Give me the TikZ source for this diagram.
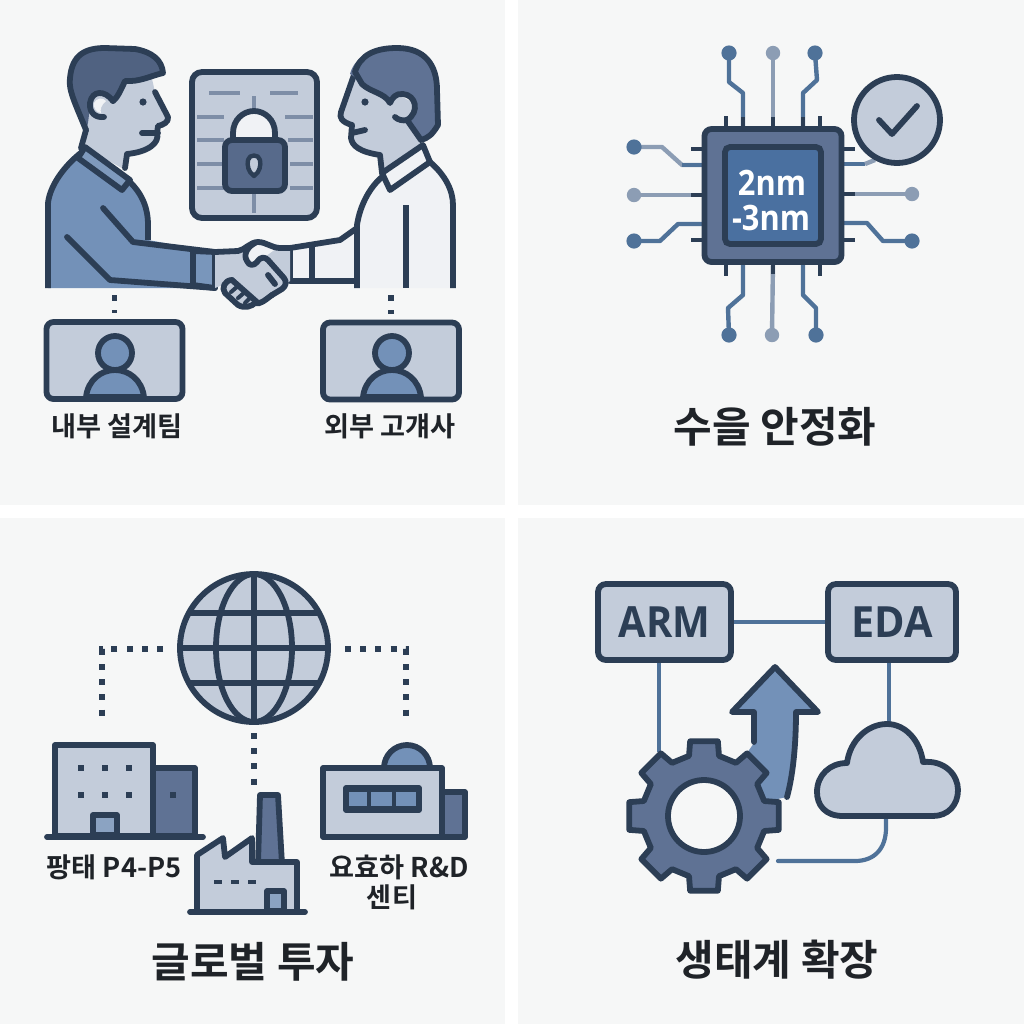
\documentclass[tikz,border=0pt]{standalone}
\usepackage{fontspec}
\newfontfamily\kr{Noto Sans CJK KR}[BoldFont={Noto Sans CJK KR Bold}]
\newfontfamily\lat{Open Sans}
\usetikzlibrary{calc}
\definecolor{ink}{HTML}{2C3E55}
\definecolor{pale}{HTML}{C3CCDA}
\definecolor{blue}{HTML}{7391B8}
\definecolor{slate}{HTML}{5F7294}
\definecolor{deep}{HTML}{4A70A0}
\definecolor{wire}{HTML}{4F7299}
\definecolor{wirel}{HTML}{8C9DB4}
\definecolor{rule}{HTML}{7E8EA7}
\definecolor{panel}{HTML}{F6F7F7}
\definecolor{shirt}{HTML}{F0F2F5}
\definecolor{txt}{HTML}{1F2328}
\tikzset{
  ol/.style={draw=ink,line width=2.9pt,line join=round,line cap=round},
  ols/.style={draw=ink,line width=2.9pt,line join=round,line cap=butt},
  dots/.style={draw=ink,line width=2.7pt,dash pattern=on 3pt off 4.6pt},
  wirea/.style={draw=wire,line width=2.2pt,line join=round},
  wireb/.style={draw=wirel,line width=2.2pt,line join=round},
  pin/.style={draw=ink,line width=2.4pt},
  dota/.style={circle,fill=wire,minimum size=7.6pt,inner sep=0pt},
  dotb/.style={circle,fill=wirel,minimum size=7.2pt,inner sep=0pt},
  lab/.style={font=\kr\bfseries\fontsize{13.6pt}{16pt}\selectfont,text=txt,inner sep=0pt},
  ttl/.style={font=\kr\bfseries\fontsize{21pt}{25pt}\selectfont,text=txt,inner sep=0pt},
  vbox/.style={rectangle,rounded corners=3.5pt,draw=ink,line width=2.9pt,fill=pale,minimum width=68pt,minimum height=38.5pt},
  tag/.style={rectangle,rounded corners=4pt,draw=ink,line width=2.9pt,fill=pale,minimum height=38pt,
    font=\lat\bfseries\fontsize{21.5pt}{25pt}\selectfont,text=ink},
  win/.style={fill=ink,minimum size=3.2pt,inner sep=0pt},
  lineb/.style={draw=wire,line width=2.1pt,line cap=round},
  lockrule/.style={draw=rule,line width=2.3pt},
  chiptxt/.style={font=\lat\bfseries\fontsize{17.5pt}{18pt}\selectfont,text=white,inner sep=0pt},
}
\begin{document}
\begin{tikzpicture}[x=0.5pt,y=-0.5pt]
\useasboundingbox (0,0) rectangle (1024,1024);
\fill[white] (0,0) rectangle (1024,1024);
\fill[panel] (0,0) rectangle (505,505);
\fill[panel] (518,0) rectangle (1024,505);
\fill[panel] (0,518) rectangle (505,1024);
\fill[panel] (518,518) rectangle (1024,1024);

% ---------- panel 1: left man
\fill[blue] (48,288) -- (48,203) .. controls (50,185) and (65,165) .. (82,152) -- (130,182) .. controls (140,192) and (148,205) .. (148,225) -- (148,240) -- (215,252) -- (215,288) -- cycle;
\draw[ols] (48,288) -- (48,203) .. controls (50,185) and (65,165) .. (82,152);
\draw[ols] (130,182) .. controls (140,192) and (148,205) .. (148,225) -- (148,240);
\draw[ol] (103,208) -- (133,242) -- (215,252) -- (215,288) -- (110,280) -- (67,237);
\draw[ol] (193,251) -- (193,285);
% face
\fill[pale] (85,147) -- (87,125) -- (75,90) -- (150,70) -- (155,92) -- (168,118) -- (158,127) -- (157,140) -- (146,151) -- (125,155) -- (125,170) -- cycle;
\draw[ol] (155,92) -- (168,117) .. controls (169,122) and (163,125) .. (158,126) -- (157,133) .. controls (160,143) and (148,152) .. (127,154) -- (125,168);
\draw[ol] (142,133) -- (158,133);
\fill[slate!70!ink] (86,130) .. controls (76,105) and (68,90) .. (70,78) .. controls (72,55) and (85,48) .. (105,48) -- (135,49) .. controls (152,52) and (162,60) .. (163,73) .. controls (150,76) and (140,82) .. (125,81) .. controls (120,92) and (117,98) .. (113,101) .. controls (105,93) and (97,92) .. (92,100) .. controls (88,108) and (90,120) .. (86,130) -- cycle;
\draw[ol] (86,130) .. controls (76,105) and (68,90) .. (70,78) .. controls (72,55) and (85,48) .. (105,48) -- (135,49) .. controls (152,52) and (162,60) .. (163,73) .. controls (150,76) and (140,82) .. (125,81) .. controls (120,92) and (117,98) .. (113,101);
\draw[ol] (113,101) .. controls (105,90) and (92,90) .. (90,103) .. controls (89,113) and (96,118) .. (104,117);
\draw[ol] (86,130) -- (81,148);
\fill[shirt] (94,103) .. controls (96,98) and (103,97) .. (106,101) .. controls (101,105) and (100,110) .. (101,113) .. controls (97,113) and (93,108) .. (94,103) -- cycle;
\fill[ink] (143,102) circle[radius=3.6];
% collar
\draw[ol,fill=blue!85!pale] (85,147) -- (130,180) -- (122,190) -- (78,158) -- cycle;
\draw[ol,fill=blue!92!pale] (193,251) -- (215,252) -- (215,288) -- (193,285) -- cycle;

% ---------- right man
\fill[shirt] (382,177) -- (430,162) .. controls (445,175) and (453,190) .. (453,205) -- (453,288) -- (357,288) -- (357,282) -- (290,282) -- (290,248) -- (340,240) -- (355,228) -- (358,207) .. controls (362,195) and (372,185) .. (382,177) -- cycle;
\draw[ols] (430,162) .. controls (445,175) and (453,190) .. (453,205) -- (453,288);
\draw[ols] (357,288) -- (357,225) .. controls (360,205) and (370,187) .. (382,177);
\draw[ol] (357,228) -- (340,240) -- (290,248) -- (290,281) -- (355,281);
\draw[ols] (312,247) -- (312,280);
\draw[ols] (406,205) -- (406,288);
\fill[pale] (355,72) -- (340,118) -- (352,128) -- (352,143) -- (363,152) -- (380,155) -- (382,173) -- (423,145) -- (407,120) -- (417,105) -- (390,90) -- cycle;
\draw[ol] (355,72) -- (341,112) .. controls (339,118) and (342,122) .. (352,125) -- (351,138) .. controls (352,146) and (360,152) .. (380,155) -- (382,173);
\draw[ol] (352,133) -- (365,130);
\fill[slate] (350,74) .. controls (355,55) and (375,48) .. (397,48) .. controls (425,48) and (437,65) .. (437,90) -- (438,125) .. controls (432,135) and (428,138) .. (421,140) -- (407,120) .. controls (418,115) and (415,100) .. (403,94) .. controls (396,93) and (392,98) .. (390,103) .. controls (385,93) and (370,92) .. (362,84) .. controls (358,80) and (354,76) .. (350,74) -- cycle;
\draw[ol] (355,72) .. controls (360,55) and (375,48) .. (397,48) .. controls (425,48) and (437,65) .. (437,90) -- (438,125) .. controls (432,135) and (428,138) .. (421,140) -- (407,120) .. controls (420,112) and (416,95) .. (403,94) .. controls (396,93) and (392,98) .. (390,103) .. controls (385,93) and (370,92) .. (362,84) -- (355,72);
\draw[ol] (407,120) .. controls (403,121) and (398,120) .. (395,117);
\fill[ink] (365,102) circle[radius=3.6];
\draw[ol,fill=shirt] (382,173) -- (423,145) -- (430,162) -- (390,190) -- cycle;

% ---------- handshake
\fill[pale] (215,252) -- (243,250) -- (255,242) -- (268,243) -- (290,247) -- (290,281) -- (272,295) -- (255,303) -- (245,305) -- (238,305) -- (225,293) -- (223,285) -- (215,288) -- cycle;
\fill[shirt] (255,242) -- (268,243) -- (280,247) .. controls (272,250) and (268,256) .. (262,258) .. controls (258,262) and (255,265) .. (252,265) .. controls (247,264) and (245,258) .. (245,253) -- cycle;
\draw[ol] (215,252) -- (238,251) .. controls (245,250) and (250,242) .. (258,242) .. controls (266,242) and (272,248) .. (280,248) -- (290,248);
\draw[ol] (255,243) .. controls (247,247) and (243,255) .. (247,261) .. controls (249,266) and (254,266) .. (257,262) .. controls (261,256) and (265,257) .. (268,260) -- (284,278) .. controls (287,282) and (286,286) .. (282,289) -- (272,295);
\draw[ol] (268,275) -- (275,284);
\draw[ol] (272,295) .. controls (265,300) and (260,305) .. (255,303);
\draw[ol] (232,280) .. controls (225,280) and (221,288) .. (225,293) -- (238,305) .. controls (245,309) and (252,306) .. (255,303);
\draw[ol] (232,280) -- (258,303);
\draw[ol,line width=2pt] (231,292) -- (238,286);
\draw[ol,line width=2pt] (238,298) -- (245,292);
\draw[ol,line width=2pt] (245,303) -- (251,297);

% ---------- lock panel
\node[rectangle,rounded corners=5pt,draw=ink,line width=2.9pt,fill=pale,minimum width=62.5pt,minimum height=73pt] (doc) at (254.5,145) {};
\foreach \a/\b/\y in {209/240/93,270/298/93,197/224/117,285/313/117,197/224/140,288/313/140,197/224/164,290/313/164,197/224/188,290/313/188}
  \draw[lockrule] (\a,\y) -- (\b,\y);
\draw[lockrule] (254,96) -- (254,112);
\draw[lockrule] (254,191) -- (254,213);
\draw[ol,fill=shirt] (233,141) -- (233,133) .. controls (233,120) and (243,111) .. (254,111) .. controls (265,111) and (275,120) .. (275,133) -- (275,141) -- cycle;
\node[rectangle,rounded corners=3.5pt,draw=ink,line width=2.9pt,fill=slate!85!ink,minimum width=30pt,minimum height=25.5pt] (lockbody) at (255,165.5) {};
\draw[ol,line width=2.2pt,fill=pale] (254,176) .. controls (248,172) and (247,165) .. (248,160) .. controls (249,154) and (259,154) .. (260,160) .. controls (261,165) and (260,172) .. (254,176) -- cycle;

% ---------- person boxes
\node[vbox] (boxa) at (114.5,360.5) {};
\node[vbox] (boxb) at (391,361) {};
\foreach \c/\n in {115/boxa,392/boxb}{
    \draw[ol,fill=blue] (\c-29,397) .. controls (\c-27,380) and (\c-14,370) .. (\c,370) .. controls (\c+14,370) and (\c+27,380) .. (\c+29,397) -- cycle;
    \draw[ol,fill=blue] (\c,353) circle[radius=17];
}
\coordinate (shirta) at (114.5,295);
\coordinate (shirtb) at (391,295);
\draw[dots,shorten >=3pt] (shirta) -- (boxa.north);
\draw[dots,shorten >=3pt] (shirtb) -- (boxb.north);
\node[lab] (la) at (117,426) {내부 설계팀};
\node[lab] (lb) at (390,426) {외부 고걔사};

% ---------- panel 2: chip
\coordinate (tl) at (729,53); \coordinate (tm) at (773,53); \coordinate (tr) at (815,53);
\coordinate (bl) at (729,335); \coordinate (bm) at (772,335); \coordinate (br) at (816,335);
\coordinate (lt) at (634,147); \coordinate (lm) at (634,195); \coordinate (lb2) at (634,241);
\coordinate (rm) at (912,194); \coordinate (rb) at (912,241);
\draw[wirea] (743,129) -- (743,93) -- (729,82) -- (tl);
\draw[wireb] (773,129) -- (tm);
\draw[wirea] (803,129) -- (803,93) -- (817,80) -- (tr);
\draw[wirea] (743,262) -- (743,295) -- (728,308) -- (bl);
\draw[wireb] (773,262) -- (bm);
\draw[wirea] (803,262) -- (803,295) -- (816,308) -- (br);
\draw[wireb] (704,165) -- (682,165) -- (662,147) -- (lt);
\draw[wirea] (704,165) -- (682,165);
\draw[wireb] (704,195) -- (lm);
\draw[wirea] (704,224) -- (678,224) -- (660,241) -- (lb2);
\draw[wirea] (842,164) -- (865,164);
\draw[wireb] (865,164) -- (875,160);
\draw[wireb] (842,194) -- (rm);
\draw[wirea] (842,223) -- (867,223) -- (883,241) -- (rb);
\foreach \x in {726,820}{\draw[pin] (\x,116) -- (\x,129); \draw[pin] (\x,262) -- (\x,276);}
\foreach \x in {743,773,803}{\draw[pin] (\x,117) -- (\x,129);}
\draw[pin] (773,262) -- (773,274);
\foreach \y in {149,240}{\draw[pin] (691,\y) -- (704,\y); \draw[pin] (842,\y) -- (855,\y);}
\draw[pin] (691,195) -- (704,195); \draw[pin] (842,194) -- (855,194);
\node[dota] at (tl) {}; \node[dotb] at (tm) {}; \node[dota] at (tr) {};
\node[dota] at (bl) {}; \node[dotb] at (bm) {}; \node[dota] at (br) {};
\node[dota] at (lt) {}; \node[dotb] at (lm) {}; \node[dota] at (lb2) {};
\node[dotb] at (rm) {}; \node[dota] at (rb) {};
\node[rectangle,rounded corners=3.5pt,draw=ink,line width=2.9pt,fill=slate,minimum width=68.5pt,minimum height=66.5pt] (chip) at (773,195.5) {};
\node[rectangle,rounded corners=2.5pt,draw=ink,line width=2.9pt,fill=deep,minimum width=48pt,minimum height=48.5pt] (die) at (773,195.5) {};
\node[chiptxt] (n2) at (772,183) {\scalebox{0.88}[1]{2nm}};
\node[chiptxt] (n3) at (771,218) {\scalebox{0.88}[1]{-3nm}};
\node[circle,draw=ink,line width=2.9pt,fill=pale,minimum size=43pt,inner sep=0pt] (okc) at (897,120) {};
\draw[ol] (879,120) -- (892,134) -- (917,106);
\node[ttl] (t2) at (775,427) {수을 안정화};

% ---------- panel 3: globe
\node[circle,draw=ink,line width=2.9pt,fill=pale,minimum size=74pt,inner sep=0pt] (globe) at (254,648) {};
\begin{scope}
  \clip (254,648) circle[radius=74];
  \draw[ols] (170,613) -- (340,613);
  \draw[ols] (170,648) -- (340,648);
  \draw[ols] (170,683) -- (340,683);
  \draw[ols] (254,570) -- (254,725);
  \draw[ols] (254,648) ellipse[x radius=38,y radius=74];
\end{scope}
\coordinate (da) at (163,649); \coordinate (dac) at (102,649); \coordinate (dae) at (102,724);
\coordinate (db) at (345,649); \coordinate (dbc) at (406,649); \coordinate (dbe) at (406,724);
\coordinate (dc) at (254,733); \coordinate (dce) at (254,785);
\draw[dots] (da) -- (dac) -- (dae);
\draw[dots] (db) -- (dbc) -- (dbe);
\draw[dots] (dc) -- (dce);
% building 1
\draw[ol,fill=slate] (153,768) rectangle (195,836);
\draw[ol,fill=pale] (55,745) rectangle (153,836);
\draw[ol] (47,837) -- (203,837);
\foreach \x in {81,105,129}\foreach \y in {768,795}\node[win] at (\x,\y) {};
\node[win] at (173,795) {};
\draw[ol,fill=blue!70!pale] (93,815) rectangle (117,835);
% factory
\draw[ol,fill=slate] (260,795) -- (278,795) -- (282,864) -- (258,864) -- cycle;
\draw[ol,fill=pale] (197,855) -- (223,838) -- (225,857) -- (252,838) -- (252,862) -- (297,862) -- (297,912) -- (197,912) -- cycle;
\foreach \x in {218,235,252}\node[fill=ink,minimum width=3.8pt,minimum height=2.2pt,inner sep=0pt] at (\x,882) {};
\draw[ol,fill=blue!70!pale] (267,891) rectangle (284,911);
\draw[ol] (190,912) -- (305,912);
% R&D
\draw[ol,fill=blue] (384,768) arc[start angle=180,end angle=360,radius=23] -- cycle;
\draw[ol,fill=slate] (442,792) rectangle (465,837);
\draw[ol,fill=pale] (323,768) rectangle (442,837);
\draw[ol,fill=ink] (346,788) rectangle (419,810);
\foreach \a/\b in {349/367,371/392,396/416}\fill[blue] (\a,792) rectangle (\b,806);
\node[lab] (l3a) at (114,867) {팡태 P4-P5};
\node[lab] (l3b) at (399,867) {요효하 R\&D};
\node[lab] (l3c) at (392,897) {센티};
\node[ttl] (t3) at (253,962) {글로벌 투자};

% ---------- panel 4
\node[tag,minimum width=66.5pt] (arm) at (664.5,622) {\scalebox{0.93}[1]{ARM}};
\node[tag,minimum width=64pt] (eda) at (892,622) {\scalebox{0.96}[1]{EDA}};
\coordinate (gearc) at (704,816);
\coordinate (gearin) at (659,752);
\coordinate (cloudtop) at (889,724);
\coordinate (cloudbot) at (886,816);
\coordinate (curveend) at (778,861);
\draw[wirea,line width=2.1pt] (arm.east) -- (eda.west);
\draw[wirea,line width=2.1pt] (arm.south -| gearin) -- (gearin);
\draw[wirea,line width=2.1pt] (eda.south -| cloudtop) -- (cloudtop);
\draw[lineb] (cloudbot) -- (886,828) .. controls (886,848) and (875,861) .. (855,861) -- (curveend);
% arrow
\fill[blue] (754,743) -- (754,712) -- (732,712) -- (775,667) -- (818,712) -- (795,712) .. controls (796,745) and (793,775) .. (787,797) -- (750,805) -- (735,770) -- cycle;
\draw[ol] (754,742) -- (754,712) -- (732,712) -- (775,667) -- (818,712) -- (796,712) .. controls (796,745) and (793,775) .. (787,797);
% gear
\begin{scope}[shift={(gearc)}]
\draw[ol,fill=slate] (-14:62)
  \foreach \a in {0,45,...,315}{ -- (\a-14:62) -- (\a-10.5:76) -- (\a+10.5:76) -- (\a+14:62) } -- cycle;
\end{scope}
\node[circle,draw=ink,line width=2.9pt,fill=panel,minimum size=36pt,inner sep=0pt] (hole) at (gearc) {};
% cloud
\draw[ol,fill=pale] (843,816) .. controls (825,816) and (817,805) .. (817,792) .. controls (817,775) and (830,763) .. (847,763) .. controls (850,740) and (868,724) .. (887,724) .. controls (905,724) and (920,740) .. (923,762) .. controls (945,760) and (958,775) .. (958,790) .. controls (958,805) and (948,816) .. (933,816) -- cycle;
\node[ttl] (t4) at (777,960) {생태계 확장};
\end{tikzpicture}
\end{document}
